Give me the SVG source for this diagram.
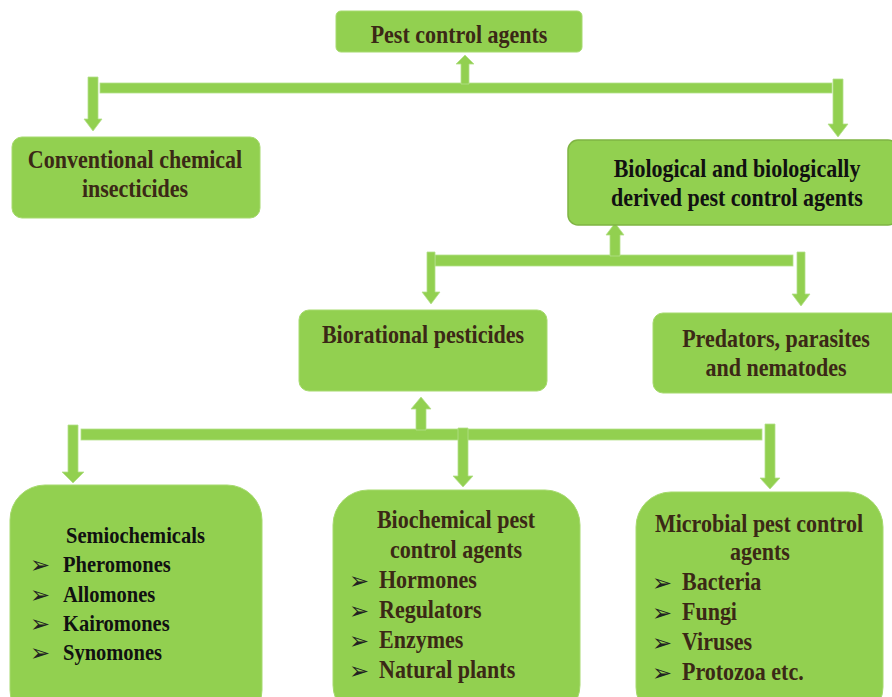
<svg xmlns="http://www.w3.org/2000/svg" width="892" height="697" viewBox="0 0 892 697">
<style>
.box{fill:#92D050;stroke:#a6da6e;stroke-width:1}
.conn{fill:#92D050;stroke:#b4e08a;stroke-width:0.8}
.t{font-family:"Liberation Serif","Times New Roman",serif;font-weight:bold;font-size:25px;fill:#3b2816}
.s{font-size:23.3px}
.k{fill:#111}
.c{text-anchor:middle}
.b{font-family:"DejaVu Sans",sans-serif;font-size:24px;font-weight:normal;fill:#222}
</style>
<rect width="892" height="697" fill="#fff"/>
<g id="connectors">
  <rect class="conn" x="100" y="83" width="732" height="10"/>
  <polygon class="conn" points="461,84 461,64 456,64 465,55 474,64 469,64 469,84"/>
  <polygon class="conn" points="88,77 98,77 98,119 102,119 93,131 84,119 88,119"/>
  <polygon class="conn" points="833,79 843,79 843,124 848,124 838,137 828,124 833,124"/>

  <rect class="conn" x="435" y="255" width="358" height="11"/>
  <polygon class="conn" points="610,256 610,235 606,235 615,223 624,235 620,235 620,256"/>
  <polygon class="conn" points="427,252 435,252 435,292 440,292 431,304 422,292 427,292"/>
  <polygon class="conn" points="797,252 805,252 805,294 810,294 801,306 792,294 797,294"/>

  <rect class="conn" x="81" y="429" width="681" height="11"/>
  <polygon class="conn" points="416,430 416,409 411,409 421,397 431,409 426,409 426,430"/>
  <polygon class="conn" points="68,425 78,425 78,472 84,472 73,483 62,472 68,472"/>
  <polygon class="conn" points="458,428 468,428 468,476 473,476 463,487 453,476 458,476"/>
  <polygon class="conn" points="765,424 775,424 775,478 780,478 770,489 760,478 765,478"/>
</g>
<g id="n-pest">
  <rect class="box" x="336" y="11" width="246" height="41" rx="5"/>
  <text class="t c" transform="translate(459,43) scale(0.88,1)">Pest control agents</text>
</g>
<g id="n-conventional">
  <rect class="box" x="12" y="137" width="248" height="81" rx="10"/>
  <text class="t c" transform="translate(135,168) scale(0.88,1)">Conventional chemical</text>
  <text class="t c" transform="translate(135,197) scale(0.88,1)">insecticides</text>
</g>
<g id="n-biological">
  <rect class="box" x="568" y="140" width="330" height="85" rx="10" style="stroke:#7fb443;stroke-width:1.5"/>
  <text class="t c k" transform="translate(737,177) scale(0.88,1)">Biological and biologically</text>
  <text class="t c k" transform="translate(737,206) scale(0.88,1)">derived pest control agents</text>
</g>
<g id="n-biorational">
  <rect class="box" x="299" y="310" width="248" height="81" rx="10"/>
  <text class="t c" transform="translate(423,343) scale(0.88,1)">Biorational pesticides</text>
</g>
<g id="n-predators">
  <rect class="box" x="653" y="313" width="250" height="80" rx="10"/>
  <text class="t c" transform="translate(776,347) scale(0.88,1)">Predators, parasites</text>
  <text class="t c" transform="translate(776,376) scale(0.88,1)">and nematodes</text>
</g>
<g id="n-semiochemicals">
  <rect class="box" x="10" y="485" width="252" height="240" rx="35"/>
  <text class="b" x="30" y="573">➢</text>
  <text class="b" x="30" y="603">➢</text>
  <text class="b" x="30" y="632">➢</text>
  <text class="b" x="30" y="661">➢</text>
  <g transform="translate(63,0) scale(0.88,1)" class="t k s">
    <text x="3.4" y="543">Semiochemicals</text>
    <text x="0" y="572">Pheromones</text>
    <text x="0" y="602">Allomones</text>
    <text x="0" y="631">Kairomones</text>
    <text x="0" y="660">Synomones</text>
  </g>
</g>
<g id="n-biochemical">
  <rect class="box" x="333" y="490" width="247" height="230" rx="35"/>
  <text class="t c" transform="translate(456,528) scale(0.88,1)">Biochemical pest</text>
  <text class="t c" transform="translate(456,558) scale(0.88,1)">control agents</text>
  <text class="b" x="349" y="589">➢</text>
  <text class="b" x="349" y="619">➢</text>
  <text class="b" x="349" y="649">➢</text>
  <text class="b" x="349" y="679">➢</text>
  <g transform="translate(379,0) scale(0.88,1)" class="t">
    <text x="0" y="588">Hormones</text>
    <text x="0" y="618">Regulators</text>
    <text x="0" y="648">Enzymes</text>
    <text x="0" y="678">Natural plants</text>
  </g>
</g>
<g id="n-microbial">
  <rect class="box" x="636" y="492" width="247" height="230" rx="35"/>
  <text class="t c" transform="translate(759,532) scale(0.88,1)">Microbial pest control</text>
  <text class="t c" transform="translate(760,560) scale(0.88,1)">agents</text>
  <text class="b" x="652" y="591">➢</text>
  <text class="b" x="652" y="621">➢</text>
  <text class="b" x="652" y="651">➢</text>
  <text class="b" x="652" y="681">➢</text>
  <g transform="translate(682,0) scale(0.88,1)" class="t">
    <text x="0" y="590">Bacteria</text>
    <text x="0" y="620">Fungi</text>
    <text x="0" y="650">Viruses</text>
    <text x="0" y="680">Protozoa etc.</text>
  </g>
</g>
</svg>
